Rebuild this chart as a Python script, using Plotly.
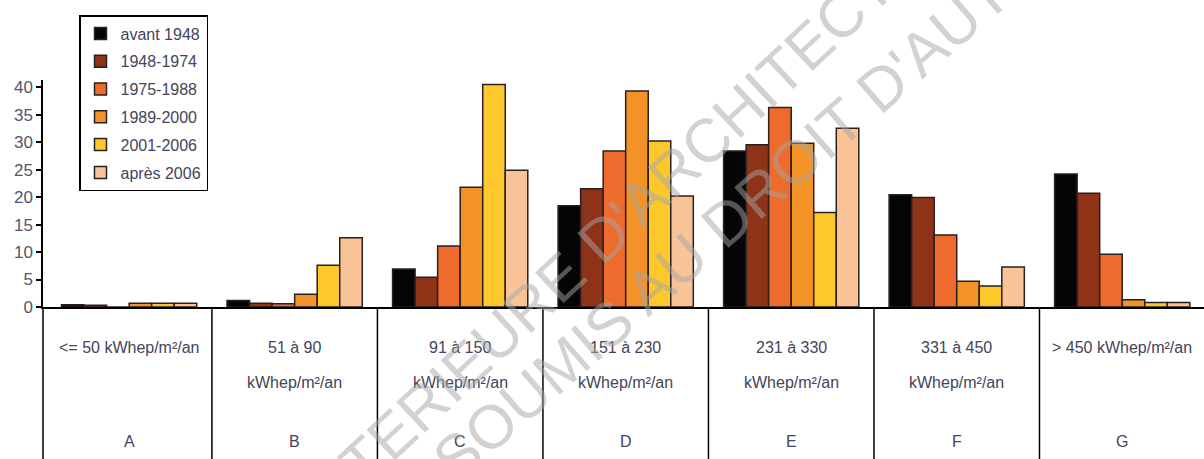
import plotly.graph_objects as go

categories = ["A", "B", "C", "D", "E", "F", "G"]
range_line1 = ["<= 50 kWhep/m²/an", "51 à 90", "91 à 150", "151 à 230",
               "231 à 330", "331 à 450", "> 450 kWhep/m²/an"]
range_line2 = ["", "kWhep/m²/an", "kWhep/m²/an", "kWhep/m²/an",
               "kWhep/m²/an", "kWhep/m²/an", ""]

series_names = ["avant 1948", "1948-1974", "1975-1988", "1989-2000", "2001-2006", "après 2006"]
avant_1948 = [0.4, 1.2, 6.9, 18.4, 28.4, 20.4, 24.2]
p_1948_1974 = [0.3, 0.7, 5.4, 21.5, 29.5, 19.9, 20.7]
p_1975_1988 = [0.0, 0.6, 11.1, 28.4, 36.3, 13.1, 9.6]
p_1989_2000 = [0.7, 2.3, 21.8, 39.3, 29.8, 4.7, 1.3]
p_2001_2006 = [0.7, 7.6, 40.5, 30.2, 17.2, 3.8, 0.8]
apres_2006 = [0.7, 12.6, 24.9, 20.2, 32.5, 7.3, 0.8]
series_values = [avant_1948, p_1948_1974, p_1975_1988, p_1989_2000, p_2001_2006, apres_2006]
colors = ["#050505", "#8e3318", "#ee6b2d", "#f29227", "#fcc82c", "#f9c398"]

y_ticks = [0, 5, 10, 15, 20, 25, 30, 35, 40]

watermark_lines = ["ULTERIEURE D'ARCHITECTURE", "SOUMIS AU DROIT D'AUTEUR"]

FONT = "Liberation Sans"
TXT = "#44445a"

fig = go.Figure()
x_idx = list(range(len(categories)))
for name, vals, col in zip(series_names, series_values, colors):
    fig.add_trace(go.Bar(
        x=x_idx, y=vals, name=name, legendgroup=name,
        marker=dict(color=col, line=dict(color="#2a2020", width=1.5)),
    ))

# plot area geometry (pixels)
W, H = 1204, 459
ML, MR, MT, MB = 43, 0, 80, 152
ph = H - MT - MB


def py(pix):
    return (H - MB - pix) / ph


def px(pix):
    return (pix - ML) / (W - ML - MR)


annotations = []
for i, (l1, l2, c) in enumerate(zip(range_line1, range_line2, categories)):
    annotations.append(dict(x=i, xref="x", y=py(347), yref="paper", text=l1,
                            showarrow=False, xanchor="center", yanchor="middle",
                            font=dict(family=FONT, size=16, color=TXT)))
    if l2:
        annotations.append(dict(x=i, xref="x", y=py(382), yref="paper", text=l2,
                                showarrow=False, xanchor="center", yanchor="middle",
                                font=dict(family=FONT, size=16, color=TXT)))
    annotations.append(dict(x=i, xref="x", y=py(441), yref="paper", text=c,
                            showarrow=False, xanchor="center", yanchor="middle",
                            font=dict(family=FONT, size=16, color=TXT)))

# watermark
wm = dict(family=FONT, size=61, color="rgba(165,165,165,0.5)")
annotations.append(dict(x=px(637), y=py(206), xref="paper", yref="paper",
                        text=watermark_lines[0], textangle=-43,
                        xanchor="center", yanchor="middle",
                        showarrow=False, font=wm))
annotations.append(dict(x=px(770), y=py(184), xref="paper", yref="paper",
                        text=watermark_lines[1], textangle=-41,
                        xanchor="center", yanchor="middle",
                        showarrow=False, font=wm))

shapes = []
bottom = -MB / ph
shapes.append(dict(type="line", xref="paper", yref="paper", x0=0, x1=0,
                   y0=bottom, y1=0, line=dict(color="black", width=1.5)))
for i in range(len(categories) - 1):
    shapes.append(dict(type="line", xref="x", yref="paper", x0=i + 0.5, x1=i + 0.5,
                       y0=bottom, y1=0, line=dict(color="black", width=1.5)))

fig.update_layout(
    width=W, height=H,
    margin=dict(l=ML, r=MR, t=MT, b=MB, pad=0, autoexpand=False),
    paper_bgcolor="white", plot_bgcolor="white",
    barmode="group", bargap=0.183, bargroupgap=0,
    showlegend=True,
    legend=dict(x=79 / W, y=1 - 15 / H, xref="container", yref="container",
                xanchor="left", yanchor="top",
                bgcolor="white", bordercolor="black", borderwidth=1.5,
                font=dict(family=FONT, size=16, color=TXT),
                traceorder="grouped", tracegroupgap=4,
                itemclick=False),
    xaxis=dict(range=[-0.5205, 6.494], showticklabels=False, ticks="",
               showgrid=False, zeroline=False, showline=True,
               linecolor="black", linewidth=1.5),
    yaxis=dict(range=[0, 41.3], tickvals=y_ticks, ticks="outside", ticklen=5,
               tickcolor="black", tickwidth=1.5, showgrid=False, zeroline=False,
               showline=True, linecolor="black", linewidth=1.5,
               tickfont=dict(family=FONT, size=17, color="#55556a"),
               ticklabelstandoff=0),
    annotations=annotations,
    shapes=shapes,
    font=dict(family=FONT),
)

fig.write_html("out.html", config={"displayModeBar": False},
               post_script="document.body.style.margin='0';document.body.style.overflow='hidden';")
